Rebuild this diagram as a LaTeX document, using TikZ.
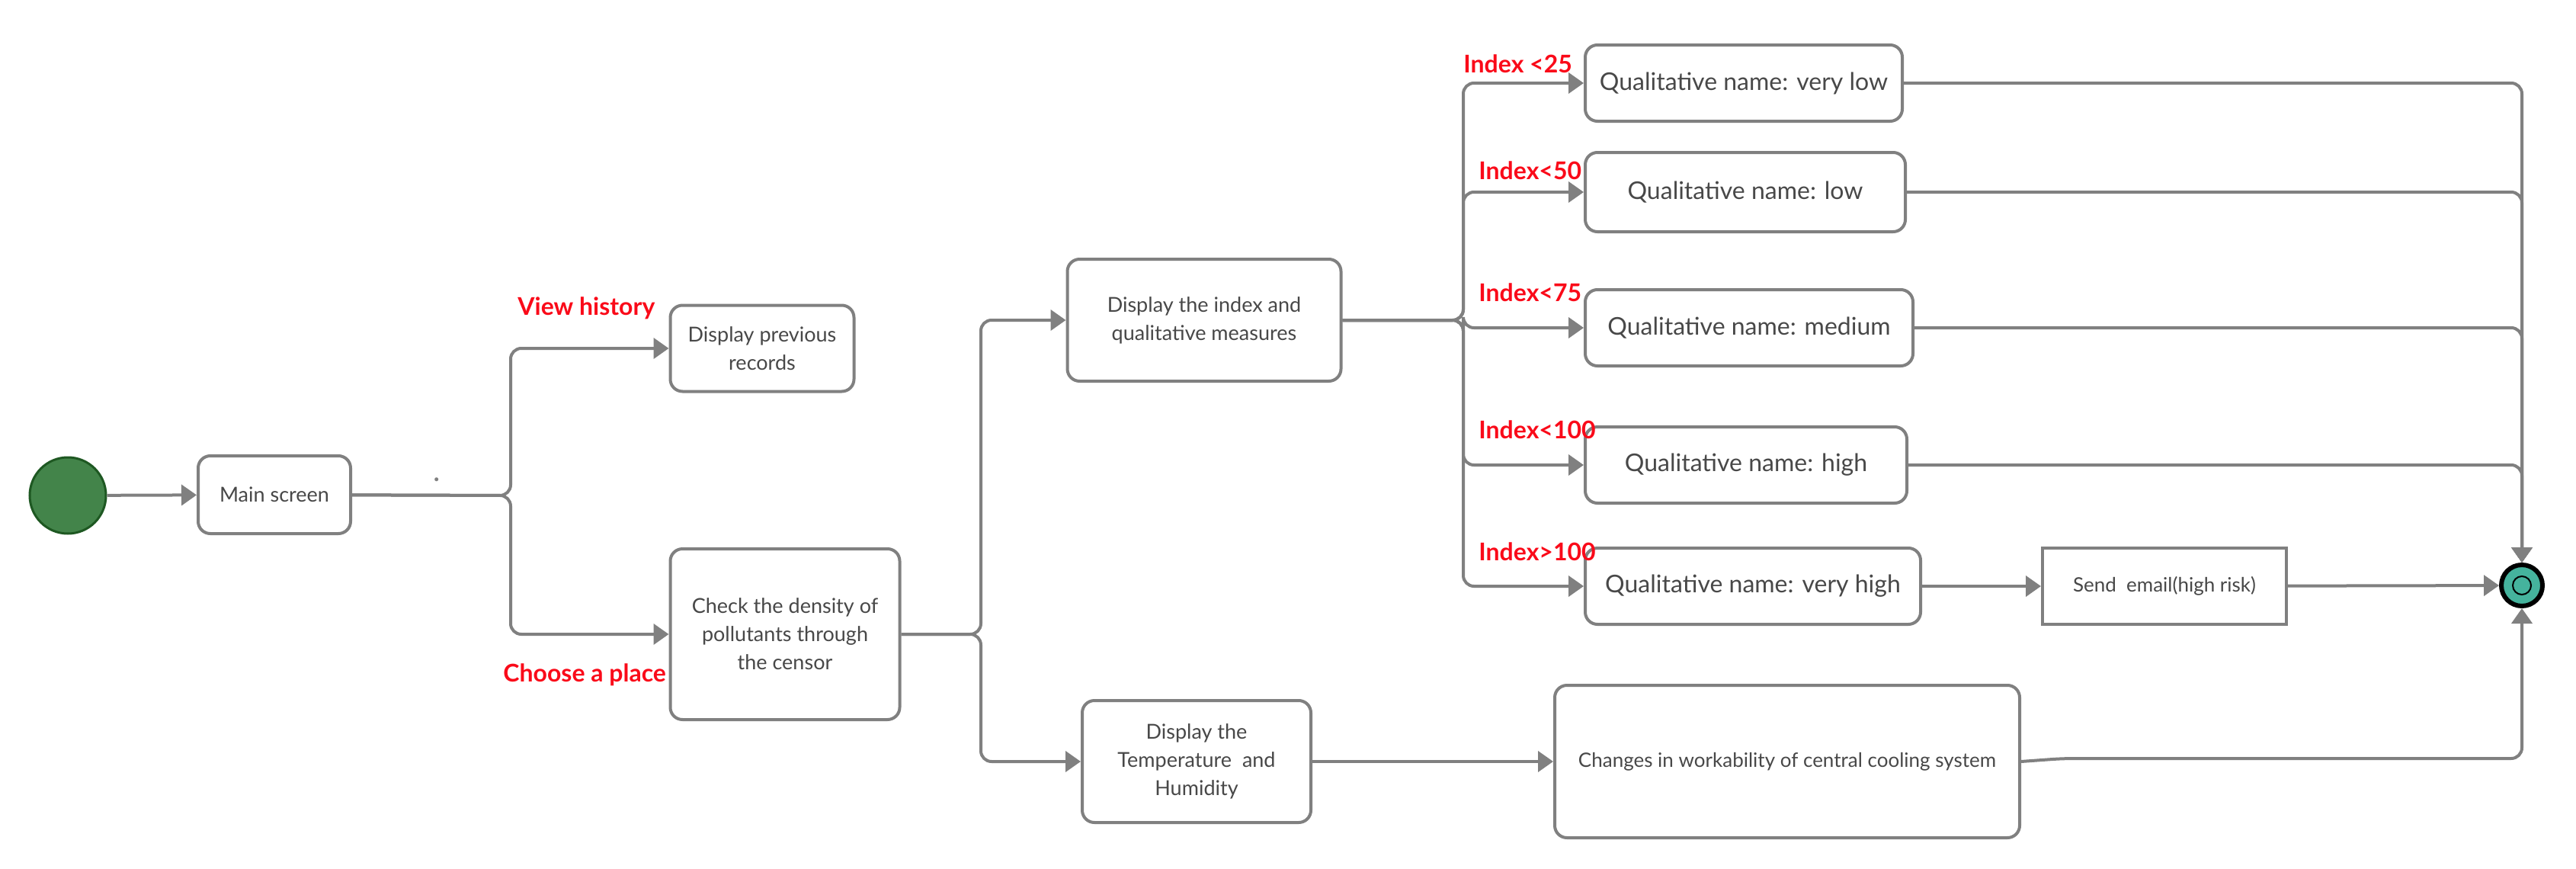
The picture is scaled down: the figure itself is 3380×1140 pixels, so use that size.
\documentclass[tikz,border=0pt]{standalone}
\usepackage{fontspec}
\setmainfont{Lato}
\usetikzlibrary{arrows.meta,positioning}
\definecolor{linegray}{RGB}{128,128,128}
\definecolor{textgray}{RGB}{72,72,72}
\definecolor{labelred}{RGB}{250,10,25}
\definecolor{startgreen}{RGB}{67,132,74}
\definecolor{startrim}{RGB}{30,88,34}
\definecolor{endteal}{RGB}{69,179,157}
\tikzset{
  act/.style={draw=linegray, line width=2pt, rounded corners=8pt, fill=white, text=textgray,
    align=center, inner sep=0pt, font=\fontsize{13.5}{18.5}\selectfont},
  qual/.style={act, font=\fontsize{16}{19}\selectfont},
  guard/.style={text=labelred, inner sep=0pt, anchor=base west, font=\fontsize{16}{19}\selectfont\bfseries},
  flow/.style={draw=linegray, line width=2pt, rounded corners=7pt, -{Triangle[length=10pt,width=13.5pt]}},
}
\begin{document}
\begin{tikzpicture}[x=0.5pt,y=0.5pt,yscale=-1,xscale=1]
        \useasboundingbox (0,0) rectangle (3380,1140);
        %Shape: start node
        \node [circle, draw=startrim, fill=startgreen, line width=1.5pt, minimum size=50pt, inner sep=0pt] (start) at (89,650) {};
        %Shape: actions
        \node [act, minimum width=100pt, minimum height=51pt] (main) at (360,649) {Main screen};
        \node [act, minimum width=120.5pt, minimum height=56.5pt] (prev) at (1000,457) {Display previous\\records};
        \node [act, minimum width=150.5pt, minimum height=112pt] (check) at (1030,832) {Check the density of\\pollutants through\\the censor};
        \node [act, minimum width=179.5pt, minimum height=80pt] (index) at (1580,420) {Display the index and\\qualitative measures};
        \node [act, minimum width=150pt, minimum height=80pt] (temp) at (1570,999) {Display the\\Temperature\ \ and\\Humidity};
        \node [act, minimum width=305pt, minimum height=100pt, font=\fontsize{13}{16}\selectfont] (changes) at (2345,999) {Changes in workability of central cooling system};
        %Shape: qualitative names
        \node [qual, minimum width=208pt, minimum height=50pt] (verylow) at (2288,109) {Qualitative name: very low};
        \node [qual, minimum width=210pt, minimum height=52pt] (low) at (2290,252) {Qualitative name: low};
        \node [qual, minimum width=215pt, minimum height=50pt] (medium) at (2295,430) {Qualitative name: medium};
        \node [qual, minimum width=211pt, minimum height=50pt] (high) at (2291,610) {Qualitative name: high};
        \node [qual, minimum width=220pt, minimum height=50pt] (veryhigh) at (2300,769) {Qualitative name: very high};
        \node [act, sharp corners, minimum width=160pt, minimum height=50pt, font=\fontsize{13}{15}\selectfont] (email) at (2840,769) {Send\ \ email(high risk)};
        %Shape: final node
        \node [circle, draw=black, fill=endteal, line width=3pt, minimum size=27pt, inner sep=0pt] (final) at (3309,768) {};
        \draw [line width=1pt] (final) circle (6pt);
        %Branch points
        \coordinate (fork1) at (670,650);
        \coordinate (fork2) at (1287,832);
        \coordinate (fork3) at (1920,420);
        \coordinate (kink) at (2707,995);
        %Straight Lines
        \draw [flow] (start) -- (main);
        \draw [flow] (main) -- (fork1) |- (prev);
        \draw [flow] (main) -- (fork1) |- (check);
        \draw [flow] (check) -- (fork2) |- (index);
        \draw [flow] (check) -- (fork2) |- (temp);
        \draw [flow] (temp) -- (changes);
        \draw [flow] (index) -- (fork3) |- (verylow);
        \draw [flow] (index) -- (fork3) |- (low);
        \draw [flow] (index) -- (fork3) |- (medium);
        \draw [flow] (index) -- (fork3) |- (high);
        \draw [flow] (index) -- (fork3) |- (veryhigh);
        \draw [flow] (veryhigh) -- (email);
        \draw [flow] (email) -- (final);
        \draw [flow] (verylow) -| (final);
        \draw [flow] (low) -| (final);
        \draw [flow] (medium) -| (final);
        \draw [flow] (high) -| (final);
        \draw [flow] (changes.east) -- (kink) -| (final);
        % Text Node
        \node [text=linegray, inner sep=0pt, font=\fontsize{20}{20}\selectfont] (dot) at (573,629) {.};
        % Text Node
        \node [guard] (viewhist) at (679,413) {View history};
        \node [guard] (choose) at (660,894) {Choose a place};
        \node [guard] (g25) at (1920,95) {Index <25};
        \node [guard] (g50) at (1940,235) {Index<50};
        \node [guard] (g75) at (1940,395) {Index<75};
        \node [guard] (g100) at (1940,575) {Index<100};
        \node [guard] (gover) at (1940,735) {Index>100};
    \end{tikzpicture}
\end{document}
